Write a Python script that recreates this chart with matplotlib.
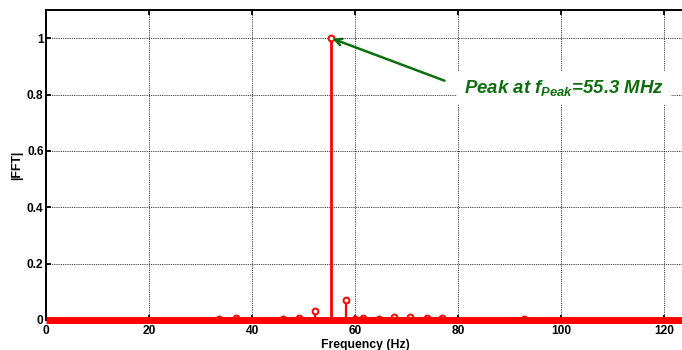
import matplotlib
matplotlib.use("Agg")
import matplotlib.pyplot as plt

plt.rcParams['font.family'] = ['Liberation Sans', 'DejaVu Sans']
plt.rcParams['mathtext.fontset'] = 'custom'
plt.rcParams['mathtext.it'] = 'Liberation Sans:bold:italic'
plt.rcParams['mathtext.rm'] = 'Liberation Sans:bold:italic'
plt.rcParams['mathtext.bf'] = 'Liberation Sans:bold:italic'

# Data
freq = [33.6, 36.9, 46.0, 49.1, 52.2, 55.3, 58.2, 59.9, 61.5, 64.6, 67.6, 70.7, 73.9, 76.9, 92.8]
mag = [0.003, 0.007, 0.003, 0.008, 0.031, 1.0, 0.072, 0.005, 0.008, 0.004, 0.009, 0.012, 0.006, 0.006, 0.002]
peak_f = 55.3
peak_v = 1.0
xticks = [0, 20, 40, 60, 80, 100, 120]
yticks = [0, 0.2, 0.4, 0.6, 0.8, 1]
ytick_labels = ['0', '0.2', '0.4', '0.6', '0.8', '1']
xlim = (0, 124)

fig = plt.figure(figsize=(6.82, 3.5), dpi=100)
ax = fig.add_axes([46.3 / 682, 30 / 350, (124 * 5.15) / 682, 310 / 350])

red = '#ff0000'
for f, v in zip(freq, mag):
    lw = 2.0 if v >= 0.5 else 1.6
    ax.plot([f, f], [0, v], color=red, lw=lw, zorder=3, solid_capstyle='butt')
ax.plot(freq, mag, linestyle='none', marker='o', markersize=4.2,
        markerfacecolor='white', markeredgecolor=red, markeredgewidth=1.4, zorder=4)
ax.plot(xlim, [0, 0], color=red, lw=5.0, zorder=4.5, solid_capstyle='butt', clip_on=False)

ax.set_xlim(*xlim)
ax.set_ylim(0, 1.1)
ax.set_xticks(xticks)
ax.set_yticks(yticks)
ax.set_yticklabels(ytick_labels)
ax.grid(True, color='black', linestyle=(0, (1, 1.2)), linewidth=0.6)
ax.set_axisbelow(True)

ax.tick_params(direction='in', length=3.5, width=1.3, top=True, right=False,
               labelsize=8.6, colors='black')
ax.tick_params(axis='x', pad=3.5)
ax.tick_params(axis='y', pad=2)
for lab in ax.get_xticklabels() + ax.get_yticklabels():
    lab.set_fontweight('bold')

ax.spines['right'].set_visible(False)
for s in ['left', 'top', 'bottom']:
    ax.spines[s].set_linewidth(1.4)

ax.set_xlabel('Frequency (Hz)', fontsize=8.8, fontweight='bold', labelpad=1.5)
ax.set_ylabel('|FFT|', fontsize=8.8, fontweight='bold', labelpad=3)

green = '#0e6e0e'
ax.annotate(r'Peak at $f_{Peak}$=55.3 MHz', xy=(peak_f, peak_v), xycoords='data',
            xytext=(464, 350 - 88), textcoords='figure pixels',
            fontsize=13.4, fontweight='bold', fontstyle='italic', color=green,
            ha='left', va='center',
            bbox=dict(boxstyle='square,pad=0.35', fc='white', ec='none'),
            arrowprops=dict(arrowstyle='->', color=green, lw=1.8, relpos=(0, 0.5),
                            shrinkA=10, shrinkB=1, mutation_scale=12),
            zorder=5)

fig.savefig('out.png', dpi=100)
